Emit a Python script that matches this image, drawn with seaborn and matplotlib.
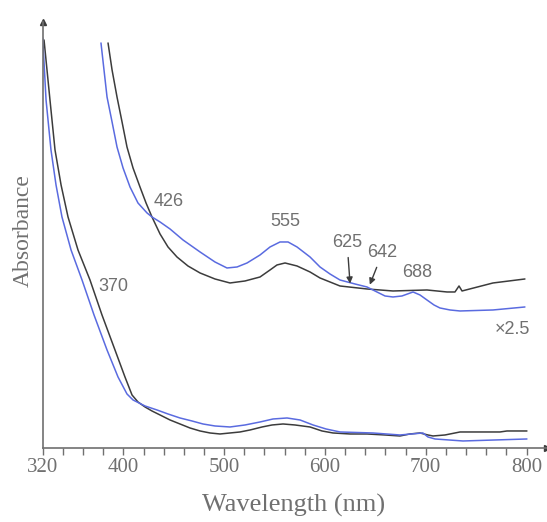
import pandas as pd
import matplotlib
matplotlib.use('Agg')
import matplotlib.pyplot as plt
import seaborn as sns

sns.set_style('white')
plt.rcParams['font.family'] = ['Liberation Serif', 'DejaVu Serif']

# lower pair of spectra (arbitrary absorbance units)
wl_low_black = [321.3, 327.2, 332.2, 338.2, 345.1, 355.0, 366.9, 378.8, 391.7, 401.6, 408.6,
                414.5, 421.5, 428.4, 436.4, 446.3, 456.2, 466.1, 476.1, 486.0, 495.9, 505.8,
                515.7, 525.7, 537.6, 547.5, 558.4, 570.3, 585.2, 597.1, 608.0, 624.9, 641.7,
                659.6, 674.4, 684.3, 694.3, 702.2, 707.2, 719.1, 734.0, 773.6, 780.6, 800.4]
abs_low_black = [408, 348, 298, 263, 231, 198, 168, 133, 98, 71, 53,
                 46, 41, 37, 33, 28, 24, 20, 17, 15, 14, 15,
                 16, 18, 21, 23, 24, 23, 21, 17, 15, 14, 14,
                 13, 12, 14, 15, 13, 12, 13, 16, 16, 17, 17]

wl_low_blue = [320.0, 323.3, 328.2, 333.2, 339.1, 348.1, 359.0, 370.9, 383.8, 394.7, 403.6,
               409.6, 421.5, 433.4, 444.3, 456.2, 468.1, 479.0, 490.9, 505.8, 520.7, 535.6,
               548.5, 562.4, 575.3, 588.2, 601.1, 615.0, 647.6, 674.4, 697.2, 702.2, 709.2,
               737.0, 800.4]
abs_low_blue = [410, 348, 298, 263, 231, 198, 168, 133, 98, 71, 54,
                48, 42, 38, 34, 30, 27, 24, 22, 21, 23, 26,
                29, 30, 28, 23, 19, 16, 15, 13, 15, 11, 9,
                7, 9]

# upper pair (x2.5)
wl_up_black = [384.8, 388.8, 393.7, 398.7, 403.6, 409.6, 416.5, 422.5, 428.4, 436.4, 444.3,
               453.2, 464.1, 476.1, 490.9, 505.8, 520.7, 535.6, 545.5, 552.4, 560.4, 572.3,
               585.2, 595.1, 614.9, 641.7, 667.5, 701.2, 721.1, 729.0, 733.0, 736.0, 766.7,
               798.4]
abs_up_black = [405, 378, 351, 326, 301, 280, 261, 245, 231, 214, 201,
                191, 182, 175, 169, 165, 167, 171, 178, 183, 185, 182,
                176, 170, 162, 159, 157, 158, 156, 156, 162, 157, 165,
                169]

wl_up_blue = [377.8, 380.8, 383.8, 388.8, 393.7, 399.7, 406.6, 414.5, 423.5, 428.4, 436.4,
              446.3, 459.2, 476.1, 490.9, 502.8, 512.8, 522.7, 535.6, 545.5, 555.4, 563.4,
              572.3, 585.2, 595.1, 605.0, 614.9, 629.8, 641.7, 651.6, 659.6, 667.5, 676.4,
              687.4, 694.3, 701.2, 708.2, 714.1, 724.1, 734.0, 766.7, 798.4]
abs_up_blue = [405, 378, 351, 326, 301, 280, 261, 245, 235, 231, 226,
               219, 208, 196, 186, 180, 181, 185, 193, 201, 206, 206,
               201, 191, 181, 174, 168, 164, 161, 156, 152, 151, 152,
               156, 153, 148, 143, 140, 138, 137, 138, 141]

peak_labels = ['370', '426', '555', '625', '642', '688']
x_ticks = list(range(320, 801, 20))
x_labels = [str(t) if t in (320, 400, 500, 600, 700, 800) else '' for t in x_ticks]

grey = '#707070'
dark = '#3c3c3c'
blue = '#5a6be0'

fig = plt.figure(figsize=(5.47, 5.22), dpi=100)
ax = fig.add_axes([0.0781, 0.1418, 0.9219, 0.8161])

for wl, ab, col in [(wl_low_black, abs_low_black, dark), (wl_low_blue, abs_low_blue, blue),
                    (wl_up_black, abs_up_black, dark), (wl_up_blue, abs_up_blue, blue)]:
    df = pd.DataFrame({'wl': wl, 'abs': ab})
    sns.lineplot(data=df, x='wl', y='abs', color=col, lw=1.1, sort=False,
                 estimator=None, ax=ax)

ax.set_xlim(320, 820.3)
ax.set_ylim(0, 426)
ax.set_xlabel('')
ax.set_ylabel('')
ax.set_yticks([])
ax.set_xticks(x_ticks)
ax.set_xticklabels(x_labels, fontsize=15, color=grey)
ax.tick_params(axis='x', direction='out', length=5, width=1, color=grey, pad=2, bottom=True)

for s in ['top', 'right']:
    ax.spines[s].set_visible(False)
for s in ['left', 'bottom']:
    ax.spines[s].set_color(grey)
    ax.spines[s].set_linewidth(1.2)
ax.plot(1, 0, '>', color=dark, ms=5, transform=ax.transAxes, clip_on=False)
ax.plot(0, 1, '^', color=dark, ms=5, transform=ax.transAxes, clip_on=False)

sans = dict(family=['Liberation Sans', 'DejaVu Sans'], fontsize=13, color=grey,
            ha='center', va='center')
ax.text(390, 161, peak_labels[0], **sans)
ax.text(445, 246, peak_labels[1], **sans)
ax.text(561, 226, peak_labels[2], **sans)
ax.text(692, 175, peak_labels[5], **sans)
ax.text(786, 118, '\u00d72.5', **sans)
arrow = dict(arrowstyle='-|>', color=dark, lw=1.0, mutation_scale=9, shrinkA=2, shrinkB=1)
ax.annotate(peak_labels[3], xy=(625, 163), xytext=(622, 205), arrowprops=arrow, **sans)
ax.annotate(peak_labels[4], xy=(644, 162), xytext=(657, 195), arrowprops=arrow, **sans)

fig.text(0.5375, 0.0326, 'Wavelength (nm)', fontsize=19, color=grey, ha='center', va='center')
fig.text(0.042, 0.5575, 'Absorbance', fontsize=17, color=grey, rotation=90,
         ha='center', va='center')

fig.savefig('out.png', dpi=100)
